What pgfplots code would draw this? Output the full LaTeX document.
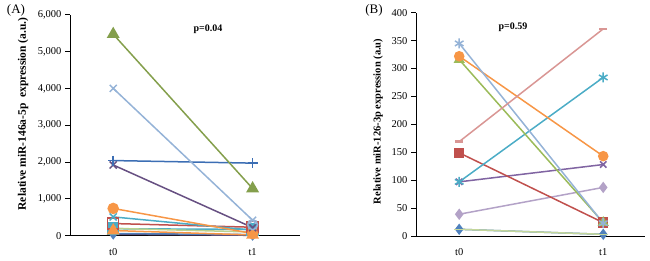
\documentclass[border=0pt]{standalone}
\usepackage{fontspec}
\setmainfont{Liberation Serif}
\usepackage{pgfplots}
\pgfplotsset{compat=1.18}
\definecolor{cBlue}{HTML}{4F81BD}
\definecolor{cRed}{HTML}{C0504D}
\definecolor{cGreen}{HTML}{9BBB59}
\definecolor{cPurple}{HTML}{8064A2}
\definecolor{cTeal}{HTML}{4BACC6}
\definecolor{cOrange}{HTML}{F79646}
\definecolor{cLBlue}{HTML}{95B3D7}
\definecolor{cPink}{HTML}{D99694}
\definecolor{cLGreen}{HTML}{C3D69B}
\definecolor{cLav}{HTML}{B3A2C7}
\definecolor{cDBlue}{HTML}{3C6EB4}
\pgfplotsset{
  panel/.style={
    scale only axis, anchor=south west, clip=false,
    axis x line*=bottom, axis y line*=left,
    axis line style={-, black, line width=0.9pt},
    xtick={0,1}, xticklabels={t0,t1},
    xtick style={draw=none},
    ytick style={black, line width=0.9pt},
    tick align=outside, major tick length=5pt,
    tick label style={font=\fontsize{10.5}{12}\selectfont},
    xticklabel style={yshift=-4pt},
    /pgf/number format/assume math mode=true,
    /pgf/number format/1000 sep={,},
    every axis plot/.append style={line width=1.5pt},
  }
}
\begin{document}
\begin{tikzpicture}
\path[use as bounding box] (0,0) rectangle (650pt,261pt);
% ---------- Panel A ----------
\begin{axis}[panel, at={(70pt,25.3pt)}, width=230pt, height=221pt,
  xmin=-0.31, xmax=1.34, ymin=0, ymax=6000, ytick={0,1000,...,6000}]
\addplot[cPurple!70!black, mark=*, mark size=2pt] coordinates {(0,40) (1,10)};
\addplot[cBlue, mark=diamond*, mark size=5pt] coordinates {(0,60) (1,30)};
\addplot[cTeal, mark=square*, mark size=5.5pt] coordinates {(0,190) (1,170)};
\addplot[cRed, mark=square, mark size=5.5pt] coordinates {(0,330) (1,230)};
\addplot[cLGreen!80!cGreen, mark=*, mark size=2pt] coordinates {(0,200) (1,100)};
\addplot[cOrange, mark=triangle*, mark size=6pt] coordinates {(0,140) (1,20)};
\addplot[cTeal, mark=x, mark size=5pt] coordinates {(0,510) (1,150)};
\addplot[cOrange, mark=*, mark size=5pt] coordinates {(0,740) (1,60)};
\addplot[cPurple!80!black, mark=x, mark size=5pt] coordinates {(0,1920) (1,220)};
\addplot[cDBlue, mark=+, mark size=5pt] coordinates {(0,2040) (1,1970)};
\addplot[cLBlue, mark=x, mark size=5pt] coordinates {(0,4000) (1,420)};
\addplot[cLBlue, only marks, mark=o, mark size=5pt] coordinates {(1,300)};
\addplot[cGreen!85!black, mark=triangle*, mark size=6pt] coordinates {(0,5470) (1,1280)};
\end{axis}
\node[font=\fontsize{13}{15}\selectfont, inner sep=0pt] at (16pt,251pt) {(A)};
\node[font=\fontsize{10}{12}\selectfont\bfseries, inner sep=0pt] at (208pt,232pt) {p=0.04};
\node[font=\fontsize{11.5}{13}\selectfont\bfseries, rotate=90, inner sep=0pt] at (23pt,147pt) {Relative miR-146a-5p\ \ expression (a.u.)};
% ---------- Panel B ----------
\begin{axis}[panel, at={(416pt,25pt)}, width=229pt, height=223.3pt,
  xmin=-0.30, xmax=1.29, ymin=0, ymax=400, ytick={0,50,...,400}]
\addplot[cBlue, mark=diamond*, mark size=4.5pt] coordinates {(0,12) (1,3)};
\addplot[cLGreen, mark=-, mark size=5pt] coordinates {(0,12) (1,3)};
\addplot[cLav, mark=diamond*, mark size=4.5pt] coordinates {(0,39) (1,87)};
\addplot[cPurple, mark=x, mark size=4.5pt] coordinates {(0,97) (1,128)};
\addplot[cRed, mark=square*, mark size=4.5pt] coordinates {(0,149) (1,24)};
\addplot[cTeal, mark=asterisk, mark size=5pt] coordinates {(0,97) (1,284)};
\addplot[cGreen, mark=triangle*, mark size=5pt] coordinates {(0,316) (1,24)};
\addplot[cOrange, mark=*, mark size=4.5pt] coordinates {(0,322) (1,143)};
\addplot[cLBlue, mark=asterisk, mark size=5pt] coordinates {(0,345) (1,23)};
\addplot[cPink, mark=-, mark size=4pt, mark options={line width=2.5pt}] coordinates {(0,169) (1,371)};
\end{axis}
\node[font=\fontsize{13}{15}\selectfont, inner sep=0pt] at (374pt,251pt) {(B)};
\node[font=\fontsize{10}{12}\selectfont\bfseries, inner sep=0pt] at (513pt,234pt) {p=0.59};
\node[font=\fontsize{10.5}{12}\selectfont\bfseries, rotate=90, inner sep=0pt] at (378pt,139.5pt) {Relative miR-126-3p expression (a.u)};
\end{tikzpicture}
\end{document}
